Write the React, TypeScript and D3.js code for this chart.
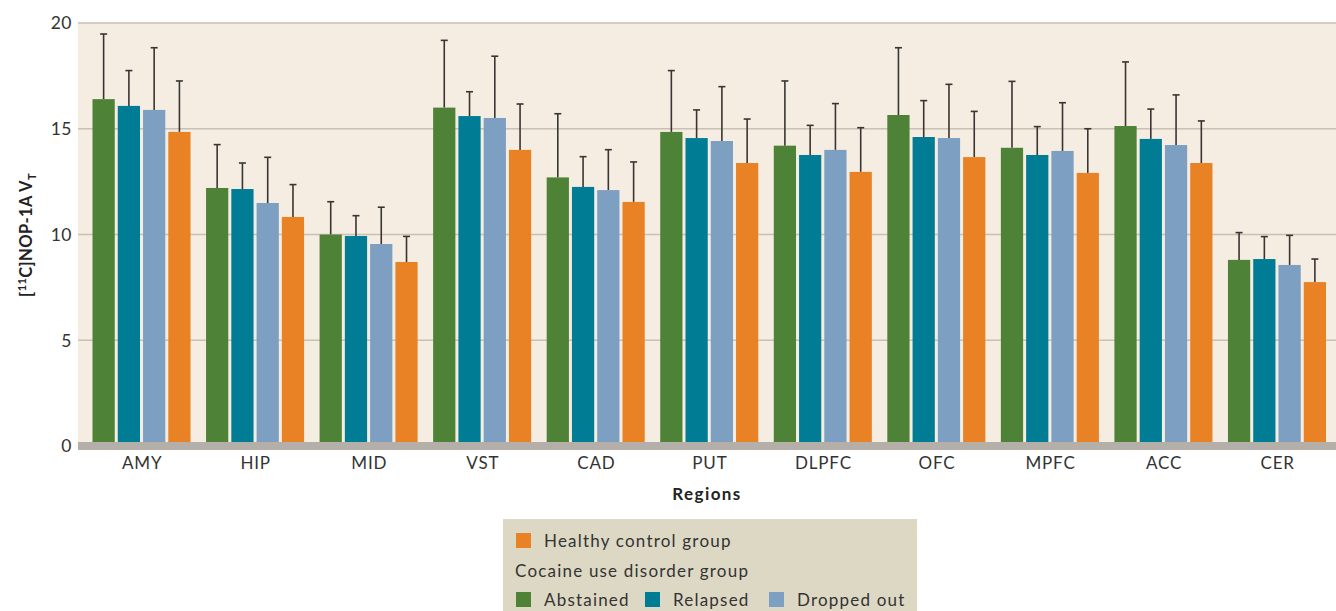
import * as d3 from "d3";

const regions = ["AMY", "HIP", "MID", "VST", "CAD", "PUT", "DLPFC", "OFC", "MPFC", "ACC", "CER"];
const groups = ["Abstained", "Relapsed", "Dropped out", "Healthy control group"];
const colors = ["#4e8237", "#007d94", "#7c9fc2", "#e98125"];

// mean values per group (one array per group, in region order)
const abstained = [16.4, 12.2, 10.0, 16.0, 12.7, 14.85, 14.2, 15.65, 14.1, 15.13, 8.8];
const relapsed = [16.08, 12.15, 9.93, 15.6, 12.25, 14.56, 13.76, 14.61, 13.76, 14.52, 8.84];
const droppedOut = [15.89, 11.49, 9.55, 15.51, 12.1, 14.42, 14.0, 14.56, 13.95, 14.23, 8.56];
const healthy = [14.85, 10.83, 8.7, 14.0, 11.54, 13.38, 12.96, 13.66, 12.91, 13.38, 7.75];

// top of error bar per group
const abstainedErr = [19.48, 14.25, 11.55, 19.18, 15.71, 17.75, 17.26, 18.83, 17.24, 18.16, 10.09];
const relapsedErr = [17.75, 13.38, 10.89, 16.75, 13.68, 15.89, 15.16, 16.33, 15.1, 15.93, 9.9];
const droppedOutErr = [18.83, 13.65, 11.29, 18.43, 14.01, 16.99, 16.19, 17.1, 16.23, 16.6, 9.96];
const healthyErr = [17.26, 12.36, 9.91, 16.17, 13.43, 15.46, 15.05, 15.82, 15.0, 15.37, 8.84];

const yTicks = [0, 5, 10, 15, 20];

const values = [abstained, relapsed, droppedOut, healthy];
const errTops = [abstainedErr, relapsedErr, droppedOutErr, healthyErr];

const font = "Lato, 'Open Sans', sans-serif";

export default function App() {
  const width = 1336;
  const height = 611;
  const plotLeft = 78;
  const plotRight = 1336;

  const x = d3.scaleBand().domain(regions).range([85, 1334]).paddingInner(0).paddingOuter(0);
  const xInner = d3.scaleBand<number>().domain([0, 1, 2, 3]).range([7.5, x.bandwidth() - 8]).paddingInner(0.12);
  const y = d3.scaleLinear().domain([0, 20]).range([446, 23]);

  return (
    <svg width={width} height={height} style={{ position: "absolute", left: 0, top: 0, fontFamily: font }}>
      <rect x={plotLeft} y={y(20)} width={plotRight - plotLeft} height={y(0) - y(20)} fill="#f5ede1" />
      {yTicks.map((t) => (
        <g key={t}>
          {t > 0 && (
            <line x1={plotLeft} x2={plotRight} y1={y(t)} y2={y(t)} stroke="#c9c0b6" strokeWidth={1.5} />
          )}
          <text x={72} y={y(t)} dy="0.36em" textAnchor="end" fontSize={17.5} fill="#333" letterSpacing={0.5}>
            {t}
          </text>
        </g>
      ))}

      {regions.map((r, i) => (
        <g key={r} transform={`translate(${x(r)},0)`}>
          {values.map((vals, g) => {
            const bx = xInner(g)!;
            const bw = xInner.bandwidth();
            const cx = bx + bw / 2;
            return (
              <g key={g}>
                <line x1={cx} x2={cx} y1={y(vals[i])} y2={y(errTops[g][i])} stroke="#3a3535" strokeWidth={1.6} />
                <line x1={cx - 3.5} x2={cx + 3.5} y1={y(errTops[g][i])} y2={y(errTops[g][i])} stroke="#3a3535" strokeWidth={1.6} />
                <rect x={bx} y={y(vals[i])} width={bw} height={y(0) - y(vals[i])} fill={colors[g]} />
              </g>
            );
          })}
          <text x={x.bandwidth() / 2 + 0.4} y={469} textAnchor="middle" fontSize={17} fill="#333" letterSpacing={0.8}>
            {r}
          </text>
        </g>
      ))}

      <rect x={plotLeft} y={y(0) - 4} width={plotRight - plotLeft} height={8} fill="#b5afa9" />

      <text x={(plotLeft + plotRight) / 2} y={500} textAnchor="middle" fontSize={17} fontWeight="bold" fill="#222" letterSpacing={1.4}>
        Regions
      </text>

      <text transform="translate(32,235) rotate(-90)" textAnchor="middle" fontSize={16.5} fontWeight="bold" fill="#222" letterSpacing={0.4}>
        [<tspan fontSize={11} dy={-6}>11</tspan>
        <tspan dy={6}>C]NOP-1A V</tspan>
        <tspan fontSize={11} dy={4}>T</tspan>
      </text>

      <g fontSize={17} fill="#333" letterSpacing={1.2}>
        <rect x={503} y={519} width={414} height={92} fill="#ddd8c4" />
        <rect x={516} y={533} width={15} height={15} fill={colors[3]} />
        <text x={544} y={547}>{groups[3]}</text>
        <text x={515} y={577}>Cocaine use disorder group</text>
        {[0, 1, 2].map((g) => {
          const lx = [516, 645, 769][g];
          return (
            <g key={g}>
              <rect x={lx} y={592} width={15} height={15} fill={colors[g]} />
              <text x={lx + 28} y={606}>{groups[g]}</text>
            </g>
          );
        })}
      </g>
    </svg>
  );
}
